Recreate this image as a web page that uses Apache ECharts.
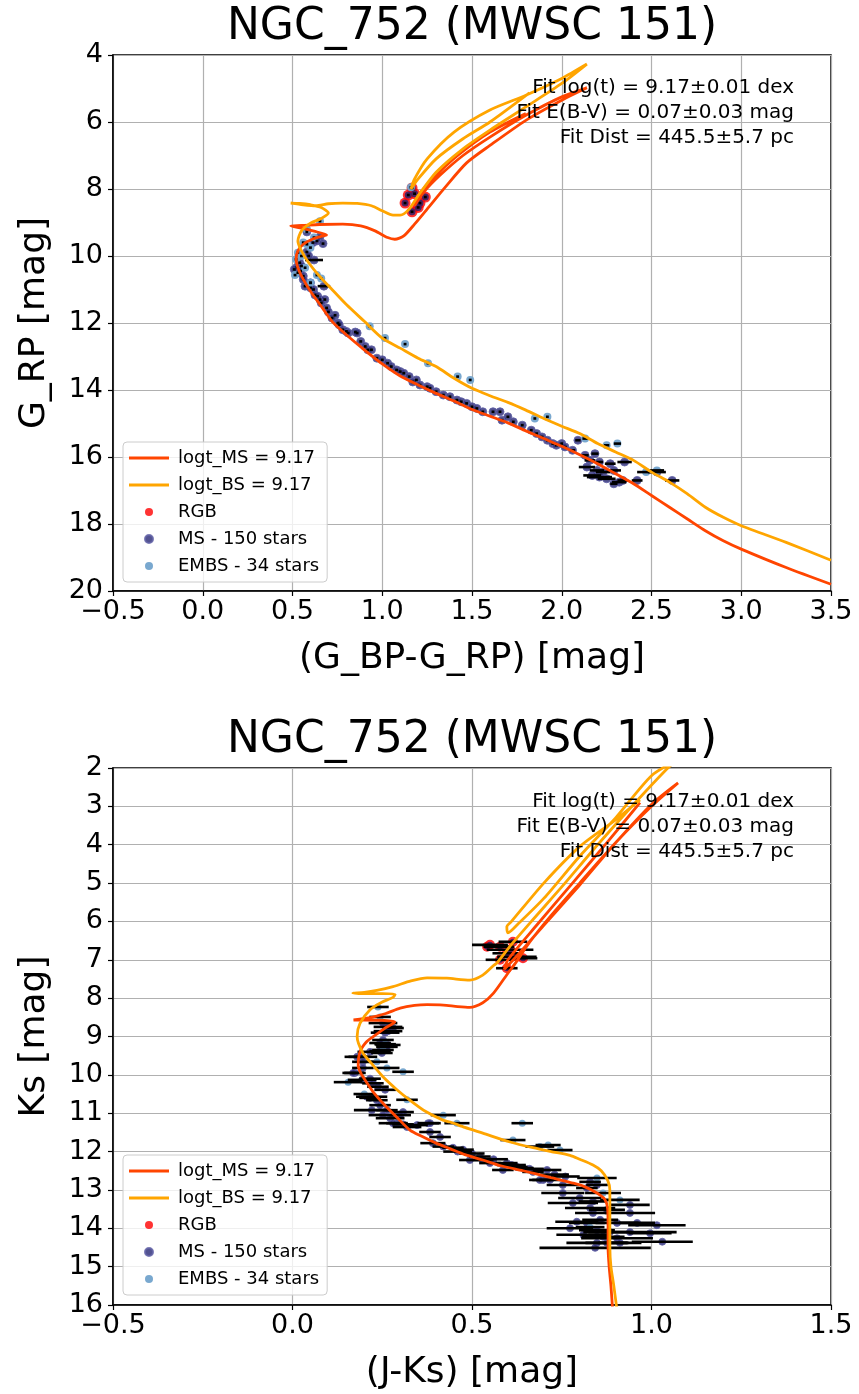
<!DOCTYPE html>
<html><head><meta charset="utf-8">
<script src="https://cdn.jsdelivr.net/npm/echarts@6/dist/echarts.min.js"></script>
<style>html,body{margin:0;padding:0;background:#fff}#c{width:859px;height:1394px}</style>
</head><body><div id="c"></div>
<script>
// ---------- DATA ----------
const titleText = 'NGC_752 (MWSC 151)';
const fitLines = ['Fit log(t) = 9.17\u00b10.01 dex', 'Fit E(B-V) = 0.07\u00b10.03 mag', 'Fit Dist = 445.5\u00b15.7 pc'];
const legendNames = ['logt_MS = 9.17', 'logt_BS = 9.17', 'RGB', 'MS - 150 stars', 'EMBS - 34 stars'];

// Top panel: G_RP vs (G_BP-G_RP)
const topMSLine = [[3.5,19.8],[3.25,19.3],[3.0,18.75],[2.9,18.5],[2.8,18.2],[2.7,17.85],[2.6,17.5],[2.5,17.15],[2.4,16.8],[2.3,16.5],[2.2,16.2],[2.1,15.93],[2.0,15.68],[1.9,15.45],[1.8,15.22],[1.7,14.98],[1.6,14.78],[1.5,14.58],[1.4,14.33],[1.3,14.1],[1.2,13.85],[1.1,13.58],[1.0,13.22],[0.9,12.8],[0.8,12.35],[0.72,11.95],[0.66,11.5],[0.6,11.05],[0.56,10.7],[0.53,10.35],[0.52,10.1],[0.53,9.85],[0.56,9.65],[0.61,9.5],[0.67,9.4],[0.69,9.37],[0.62,9.26],[0.55,9.17],[0.49,9.1],[0.55,9.09],[0.65,9.06],[0.78,9.05],[0.88,9.1],[0.96,9.25],[1.03,9.45],[1.07,9.5],[1.12,9.4],[1.18,9.05],[1.25,8.6],[1.35,7.95],[1.47,7.22],[1.6,6.7],[1.8,5.95],[2.0,5.35],[2.14,4.98],[2.0,5.25],[1.8,5.8],[1.6,6.45],[1.45,7.0],[1.32,7.6],[1.23,8.1],[1.18,8.5],[1.2,8.2],[1.28,7.7],[1.42,7.0],[1.6,6.3],[1.8,5.75]];
const topBSLine = [[3.5,19.08],[3.25,18.55],[3.0,18.05],[2.9,17.8],[2.8,17.5],[2.7,17.1],[2.6,16.75],[2.5,16.45],[2.4,16.1],[2.3,15.85],[2.2,15.6],[2.1,15.3],[2.0,15.08],[1.9,14.85],[1.8,14.6],[1.7,14.37],[1.6,14.17],[1.5,13.95],[1.4,13.65],[1.3,13.3],[1.2,13.05],[1.1,12.75],[1.0,12.45],[0.9,11.95],[0.8,11.45],[0.72,11.0],[0.65,10.6],[0.59,10.2],[0.55,9.85],[0.53,9.55],[0.55,9.25],[0.6,9.02],[0.66,8.88],[0.7,8.72],[0.66,8.55],[0.6,8.47],[0.54,8.43],[0.49,8.42],[0.56,8.47],[0.63,8.5],[0.7,8.44],[0.78,8.42],[0.86,8.43],[0.94,8.5],[1.0,8.65],[1.06,8.78],[1.1,8.78],[1.15,8.6],[1.2,8.2],[1.3,7.5],[1.45,6.8],[1.6,6.24],[1.8,5.55],[2.0,4.85],[2.14,4.27],[2.0,4.7],[1.8,5.2],[1.6,5.64],[1.4,6.3],[1.25,7.1],[1.18,7.7],[1.16,8.0],[1.2,7.7],[1.3,7.1],[1.45,6.5],[1.6,6.0],[1.82,5.13]];
const topMS = [[0.58,9.28,0.008],[0.614,9.6,0.008],[0.653,9.43,0.008],[0.636,9.55,0.008],[0.67,9.63,0.008],[0.58,9.88,0.008],[0.54,10.2,0.008],[0.55,10.3,0.008],[0.62,10.12,0.05],[0.59,10.0,0.008],[0.525,10.33,0.008],[0.53,10.5,0.008],[0.51,10.4,0.008],[0.545,10.45,0.008],[0.56,10.6,0.008],[0.56,10.7,0.008],[0.6,10.8,0.008],[0.57,10.9,0.008],[0.6,10.95,0.008],[0.617,11.0,0.008],[0.675,10.9,0.035],[0.625,11.16,0.008],[0.64,11.2,0.008],[0.653,11.3,0.008],[0.68,11.3,0.008],[0.66,11.4,0.008],[0.69,11.55,0.008],[0.70,11.67,0.008],[0.737,11.77,0.008],[0.72,11.85,0.008],[0.753,12.0,0.008],[0.76,12.05,0.008],[0.78,12.2,0.008],[0.8,12.25,0.008],[0.81,12.3,0.008],[0.85,12.27,0.008],[0.86,12.3,0.008],[0.88,12.55,0.008],[0.905,12.7,0.008],[0.92,12.8,0.008],[0.94,12.8,0.008],[0.97,13.05,0.008],[1.0,13.1,0.008],[1.03,13.2,0.008],[1.05,13.3,0.008],[1.08,13.4,0.008],[1.1,13.45,0.008],[1.12,13.5,0.008],[1.15,13.6,0.008],[1.19,13.7,0.008],[1.17,13.76,0.008],[1.21,13.85,0.008],[1.25,13.9,0.008],[1.266,13.95,0.008],[1.3,14.05,0.008],[1.34,14.15,0.008],[1.377,14.2,0.008],[1.416,14.3,0.008],[1.44,14.35,0.008],[1.47,14.4,0.008],[1.5,14.5,0.008],[1.527,14.55,0.008],[1.56,14.65,0.008],[1.617,14.65,0.008],[1.656,14.65,0.008],[1.667,14.9,0.008],[1.7,14.8,0.008],[1.73,14.95,0.008],[1.78,15.05,0.008],[1.83,15.2,0.008],[1.86,15.3,0.008],[1.89,15.4,0.008],[1.92,15.5,0.008],[1.95,15.6,0.008],[1.97,15.65,0.008],[2.0,15.6,0.008],[2.018,15.7,0.01],[2.06,15.8,0.015],[2.09,15.5,0.015],[2.13,15.95,0.02],[2.185,15.9,0.02],[2.157,16.1,0.03],[2.14,16.3,0.045],[2.21,16.15,0.02],[2.27,16.2,0.03],[2.196,16.4,0.04],[2.17,16.55,0.05],[2.21,16.6,0.07],[2.25,16.65,0.05],[2.29,16.8,0.02],[2.32,16.75,0.04],[2.34,16.7,0.03],[2.42,16.7,0.03],[2.35,16.15,0.04],[2.53,16.45,0.05],[2.615,16.7,0.04],[2.29,16.4,0.04],[2.23,16.45,0.04]];
const topEMBS = [[0.653,8.96,0.008],[0.58,9.2,0.008],[0.62,9.45,0.008],[0.56,9.6,0.008],[0.58,9.65,0.008],[0.6,9.75,0.008],[0.53,9.9,0.008],[0.55,10.0,0.008],[0.52,10.1,0.008],[0.57,10.35,0.008],[0.514,10.57,0.008],[0.636,10.57,0.008],[0.66,10.67,0.008],[0.6,10.8,0.008],[0.93,12.1,0.008],[1.015,12.45,0.008],[1.127,12.63,0.008],[1.255,13.2,0.008],[1.42,13.6,0.008],[1.49,13.7,0.008],[1.85,14.85,0.008],[1.92,14.8,0.008],[2.13,15.45,0.015],[2.25,15.65,0.015],[2.31,15.6,0.02],[2.47,16.45,0.05],[2.53,16.4,0.04],[1.16,7.95,0.008]];
const topRGB = [[1.166,7.97,0.008],[1.145,8.18,0.008],[1.127,8.42,0.008],[1.166,8.68,0.008],[1.21,8.42,0.008],[1.24,8.24,0.008],[1.18,8.14,0.008],[1.2,8.55,0.008]];

// Bottom panel: Ks vs (J-Ks)
const botMSLine = [[0.893,16.3],[0.887,15.5],[0.882,15.0],[0.879,14.5],[0.879,14.0],[0.878,13.5],[0.87,13.25],[0.848,13.08],[0.81,12.9],[0.781,12.82],[0.72,12.68],[0.642,12.5],[0.58,12.37],[0.53,12.22],[0.48,12.08],[0.44,11.93],[0.40,11.78],[0.36,11.6],[0.327,11.44],[0.29,11.1],[0.252,10.74],[0.225,10.45],[0.208,10.22],[0.19,9.95],[0.183,9.75],[0.188,9.4],[0.205,9.15],[0.224,9.01],[0.255,8.8],[0.285,8.62],[0.25,8.58],[0.2,8.57],[0.17,8.57],[0.22,8.5],[0.26,8.4],[0.3,8.26],[0.34,8.19],[0.375,8.17],[0.42,8.18],[0.46,8.22],[0.494,8.24],[0.53,8.12],[0.56,7.87],[0.6,7.35],[0.62,7.1],[0.66,6.55],[0.72,5.85],[0.8,5.0],[0.9,3.95],[1.0,3.0],[1.074,2.39],[1.0,2.95],[0.9,3.95],[0.8,5.05],[0.7,6.1],[0.63,6.85],[0.59,7.25],[0.6,7.0],[0.68,6.1],[0.78,5.0],[0.88,3.9],[0.968,2.9]];
const botBSLine = [[0.906,16.3],[0.895,15.5],[0.887,15.0],[0.884,14.5],[0.884,14.0],[0.884,13.5],[0.884,13.0],[0.878,12.75],[0.86,12.5],[0.837,12.35],[0.8,12.2],[0.773,12.1],[0.72,12.0],[0.67,11.9],[0.606,11.75],[0.53,11.52],[0.48,11.37],[0.439,11.23],[0.419,11.18],[0.37,10.95],[0.327,10.66],[0.29,10.38],[0.252,10.05],[0.22,9.7],[0.196,9.43],[0.18,9.0],[0.188,8.66],[0.216,8.3],[0.25,8.1],[0.28,7.98],[0.286,7.9],[0.25,7.88],[0.2,7.88],[0.168,7.87],[0.2,7.85],[0.235,7.8],[0.28,7.7],[0.33,7.55],[0.375,7.47],[0.43,7.48],[0.494,7.53],[0.53,7.4],[0.56,7.15],[0.57,7.08],[0.61,6.6],[0.67,5.95],[0.75,5.1],[0.85,4.0],[0.95,2.95],[1.04,2.05],[1.07,1.8],[1.0,2.2],[0.9,3.3],[0.8,4.3],[0.7,5.4],[0.63,6.05],[0.6,6.3],[0.597,6.14],[0.61,6.0],[0.7,5.0],[0.8,4.05],[0.9,3.35],[0.968,2.83]];
const botMS = [[0.252,8.65,0.04],[0.266,8.75,0.04],[0.28,8.78,0.03],[0.258,8.9,0.04],[0.266,8.86,0.04],[0.252,9.09,0.03],[0.244,9.17,0.03],[0.266,9.22,0.035],[0.263,9.27,0.03],[0.244,9.38,0.03],[0.216,9.4,0.035],[0.249,9.43,0.03],[0.18,9.53,0.035],[0.196,9.53,0.04],[0.196,9.66,0.03],[0.196,9.82,0.03],[0.174,9.95,0.03],[0.169,9.95,0.03],[0.194,10.13,0.04],[0.216,10.1,0.03],[0.224,10.22,0.03],[0.238,10.31,0.03],[0.258,10.39,0.03],[0.224,10.57,0.04],[0.207,10.57,0.03],[0.216,10.6,0.03],[0.235,10.66,0.03],[0.244,10.79,0.03],[0.221,10.92,0.05],[0.263,10.92,0.03],[0.308,10.97,0.03],[0.252,11.05,0.04],[0.30,11.05,0.03],[0.272,11.13,0.04],[0.291,11.26,0.03],[0.28,11.26,0.04],[0.308,11.29,0.03],[0.319,11.36,0.04],[0.347,11.31,0.03],[0.378,11.26,0.03],[0.383,11.26,0.03],[0.383,11.49,0.03],[0.411,11.62,0.03],[0.391,11.78,0.035],[0.42,11.87,0.03],[0.447,11.9,0.03],[0.475,11.95,0.03],[0.46,12.0,0.04],[0.5,12.05,0.035],[0.494,12.22,0.03],[0.522,12.13,0.03],[0.53,12.22,0.03],[0.56,12.2,0.04],[0.55,12.3,0.03],[0.597,12.3,0.03],[0.61,12.35,0.04],[0.625,12.4,0.03],[0.586,12.48,0.03],[0.642,12.43,0.03],[0.66,12.45,0.04],[0.67,12.53,0.03],[0.709,12.48,0.04],[0.73,12.6,0.04],[0.76,12.65,0.04],[0.698,12.74,0.03],[0.689,12.74,0.03],[0.717,12.74,0.03],[0.753,12.87,0.045],[0.829,12.79,0.03],[0.848,12.87,0.03],[0.82,12.95,0.03],[0.753,13.08,0.06],[0.80,13.21,0.06],[0.781,13.34,0.07],[0.837,13.3,0.04],[0.94,13.39,0.055],[0.829,13.47,0.07],[0.876,13.52,0.05],[0.94,13.6,0.07],[0.837,13.6,0.05],[0.792,13.83,0.06],[0.82,13.86,0.05],[0.857,13.78,0.05],[0.904,13.86,0.06],[0.96,13.86,0.05],[1.015,13.92,0.08],[0.773,14.0,0.065],[0.848,14.05,0.05],[0.884,14.1,0.06],[0.94,14.1,0.13],[0.996,14.13,0.06],[0.81,14.17,0.075],[0.865,14.22,0.06],[0.904,14.26,0.1],[1.03,14.35,0.085],[0.848,14.38,0.085],[0.876,14.38,0.06],[0.912,14.38,0.06],[0.843,14.51,0.155]];
const botEMBS = [[0.238,8.23,0.03],[0.244,8.49,0.03],[0.258,9.2,0.03],[0.252,9.35,0.03],[0.235,9.66,0.03],[0.263,9.82,0.035],[0.308,9.92,0.03],[0.155,10.19,0.04],[0.2,10.5,0.03],[0.319,10.65,0.03],[0.42,11.05,0.035],[0.458,11.26,0.035],[0.64,11.26,0.03],[0.614,11.7,0.035],[0.689,11.87,0.04],[0.712,11.83,0.035],[0.745,11.96,0.035],[0.848,12.69,0.055],[0.865,13.08,0.05],[0.912,13.26,0.055],[0.829,13.97,0.04]];
const botRGB = [[0.55,6.61,0.05],[0.578,6.66,0.04],[0.606,6.74,0.065],[0.614,6.53,0.04],[0.597,6.83,0.04],[0.625,6.92,0.055],[0.642,6.96,0.04],[0.578,7.0,0.04],[0.597,7.22,0.03],[0.542,6.66,0.01]];

// ---------- STYLE / LAYOUT ----------
const FONT = 'DejaVu Sans';
const C_MS_LINE = '#ff4500', C_BS_LINE = '#ffa500';
const C_MS = '#34347c', C_EMBS = '#72a3cc', C_RGB = '#ff0000';
const LINE_ICON = 'path://M0,0L40,0L40,2.8L0,2.8Z';
const panels = [
  {top: 55, height: 536, xmin: -0.5, xmax: 3.5, ymin: 4, ymax: 20, yint: 2, xname: '(G_BP-G_RP) [mag]', yname: 'G_RP [mag]',
   ms: topMS, embs: topEMBS, rgb: topRGB, msLine: topMSLine, bsLine: topBSLine, size: 8, titleY: 28, fitY: 88, legTop: 442},
  {top: 768, height: 537, xmin: -0.5, xmax: 1.5, ymin: 2, ymax: 16, yint: 1, xname: '(J-Ks) [mag]', yname: 'Ks [mag]',
   ms: botMS, embs: botEMBS, rgb: botRGB, msLine: botMSLine, bsLine: botBSLine, size: 7, titleY: 741, fitY: 802, legTop: 1155}
];

const grids = [], xAxes = [], yAxes = [], series = [], legends = [], graphics = [];
const fmtX = v => (v < 0 ? '\u2212' : '') + Math.abs(v).toFixed(1);

panels.forEach((p, i) => {
  grids.push({left: 113, right: 28, top: p.top, height: p.height, show: true, borderColor: '#000', borderWidth: 1.5, backgroundColor: 'transparent', containLabel: false});
  xAxes.push({type: 'value', gridIndex: i, min: p.xmin, max: p.xmax, interval: 0.5,
    name: p.xname, nameLocation: 'middle', nameGap: 50, nameTextStyle: {fontFamily: FONT, fontSize: 36, color: '#000'},
    axisLine: {show: true, onZero: false, lineStyle: {color: '#000', width: 1.5}},
    axisTick: {show: true, length: 5, lineStyle: {color: '#000', width: 1.2}},
    axisLabel: {fontFamily: FONT, fontSize: 27, color: '#000', margin: 7, formatter: fmtX},
    splitLine: {show: true, lineStyle: {color: '#b0b0b0', width: 1.2}}});
  yAxes.push({type: 'value', gridIndex: i, min: p.ymin, max: p.ymax, interval: p.yint, inverse: true,
    name: p.yname, nameLocation: 'middle', nameGap: 60, nameRotate: 90, nameTextStyle: {fontFamily: FONT, fontSize: 36, color: '#000'},
    axisLine: {show: true, onZero: false, lineStyle: {color: '#000', width: 1.5}},
    axisTick: {show: true, length: 5, lineStyle: {color: '#000', width: 1.2}},
    axisLabel: {fontFamily: FONT, fontSize: 27, color: '#000', margin: 10},
    splitLine: {show: true, lineStyle: {color: '#b0b0b0', width: 1.2}}});

  const common = {xAxisIndex: i, yAxisIndex: i};
  series.push(Object.assign({type: 'scatter', name: 'RGB', data: p.rgb, symbolSize: p.size + 3, itemStyle: {color: C_RGB}, z: 2, silent: true}, common));
  series.push(Object.assign({type: 'scatter', name: 'MS - 150 stars', data: p.ms, symbolSize: p.size, itemStyle: {color: C_MS, opacity: 0.85, borderColor: '#6464a8', borderWidth: 1}, z: 3, silent: true}, common));
  series.push(Object.assign({type: 'scatter', name: 'MS - 150 stars', data: p.rgb, symbolSize: p.size - 1, itemStyle: {color: '#3a2066', opacity: 0.9}, z: 3, silent: true}, common));
  series.push(Object.assign({type: 'scatter', name: 'EMBS - 34 stars', data: p.embs, symbolSize: p.size, itemStyle: {color: C_EMBS, opacity: 0.95}, z: 3, silent: true}, common));
  series.push(Object.assign({type: 'custom', name: 'err' + i, data: p.ms.concat(p.embs, p.rgb), encode: {x: 0, y: 1}, z: 4, silent: true,
    renderItem: (params, api) => {
      const x = api.value(0), y = api.value(1), e = api.value(2);
      const a = api.coord([x - e, y]), b = api.coord([x + e, y]);
      if (b[0] - a[0] < 2.5) { const m = (a[0] + b[0]) / 2; a[0] = m - 1.25; b[0] = m + 1.25; }
      return {type: 'line', shape: {x1: a[0], y1: a[1], x2: b[0], y2: b[1]}, style: {stroke: '#000', lineWidth: 2.6}};
    }}, common));
  series.push(Object.assign({type: 'line', name: 'logt_MS = 9.17', data: p.msLine, showSymbol: false, symbol: 'none', smooth: 0.25, lineStyle: {color: C_MS_LINE, width: 2.8}, itemStyle: {color: C_MS_LINE}, z: 5, silent: true}, common));
  series.push(Object.assign({type: 'line', name: 'logt_BS = 9.17', data: p.bsLine, showSymbol: false, symbol: 'none', smooth: 0.25, lineStyle: {color: C_BS_LINE, width: 2.8}, itemStyle: {color: C_BS_LINE}, z: 5, silent: true}, common));

  legends.push({orient: 'vertical', left: 123, top: p.legTop, itemWidth: 40, itemHeight: 8, itemGap: 9,
    padding: [7, 8, 7, 6], backgroundColor: 'rgba(255,255,255,0.8)', borderColor: '#cccccc', borderWidth: 1, borderRadius: 4,
    selectedMode: false, z: 10,
    textStyle: {fontFamily: FONT, fontSize: 18, color: '#000', padding: [0, 0, 0, 4]},
    data: [
      {name: legendNames[0], icon: LINE_ICON, itemStyle: {color: C_MS_LINE}},
      {name: legendNames[1], icon: LINE_ICON, itemStyle: {color: C_BS_LINE}},
      {name: legendNames[2], icon: 'circle'},
      {name: legendNames[3], icon: 'circle'},
      {name: legendNames[4], icon: 'circle'}
    ]});

  graphics.push({type: 'text', x: 472, y: p.titleY, z: 20,
    style: {text: titleText, fontFamily: FONT, fontSize: 44, fill: '#000', align: 'center', verticalAlign: 'middle'}});
  fitLines.forEach((t, k) => graphics.push({type: 'text', x: 794, y: p.fitY + k * 25, z: 20,
    style: {text: t, fontFamily: FONT, fontSize: 20, fill: '#000', align: 'right', verticalAlign: 'middle'}}));
});

const chart = echarts.init(document.getElementById('c'), null, {renderer: 'canvas'});
chart.setOption({animation: false, backgroundColor: '#fff', grid: grids, xAxis: xAxes, yAxis: yAxes, series: series, legend: legends, graphic: graphics});
</script></body></html>
